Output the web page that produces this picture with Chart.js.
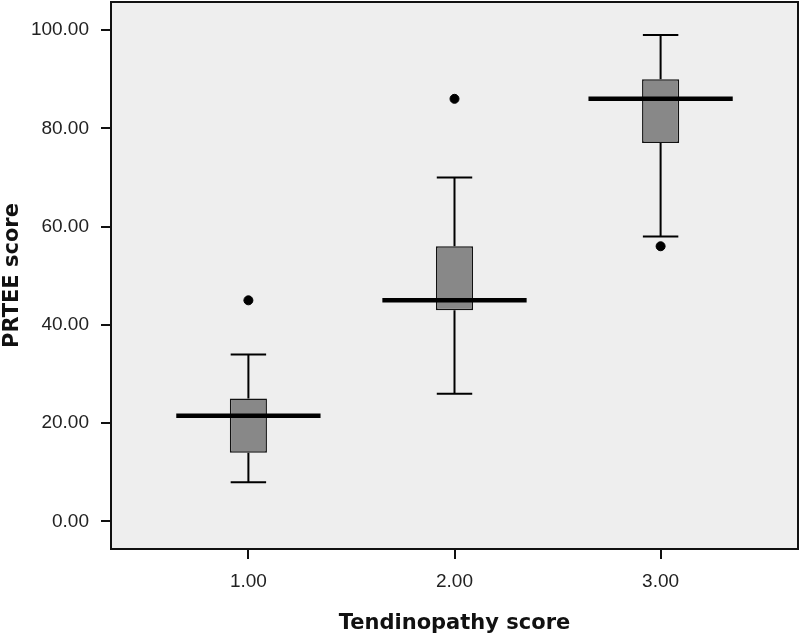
<!DOCTYPE html>
<html>
<head>
<meta charset="utf-8">
<script src="https://cdn.jsdelivr.net/npm/chart.js@4.4.1/dist/chart.umd.min.js"></script>
<style>
  html, body { margin: 0; padding: 0; background: #ffffff; }
  #wrap { width: 800px; height: 639px; position: relative; }
</style>
</head>
<body>
<div id="wrap"><canvas id="c" width="800" height="639"></canvas></div>
<script>
// ---- data ----
const categories   = [1, 2, 3];
const q1           = [14, 43, 77];
const q3           = [25, 56, 90];
const whiskerLow   = [8, 26, 58];
const whiskerHigh  = [34, 70, 99];
const medians      = [21.5, 45, 86];
const outlierCat   = [1, 2, 3];
const outlierValue = [45, 86, 56];
const yTickValues  = [0, 20, 40, 60, 80, 100];
const xTickValues  = [1, 2, 3];
const xTitle = 'Tendinopathy score';
const yTitle = 'PRTEE score';

// ---- drawing geometry (in x-axis units) ----
const BOX_HALF = 0.09;
const CAP_HALF = 0.086;
const MED_HALF = 0.35;

const boxData = categories.map((c, i) => ({ x: c, y: [q1[i], q3[i]] }));

const whiskerData = [];
categories.forEach((c, i) => {
  whiskerData.push({ x: c, y: q3[i] }, { x: c, y: whiskerHigh[i] }, { x: c, y: null });
  whiskerData.push({ x: c - CAP_HALF, y: whiskerHigh[i] }, { x: c + CAP_HALF, y: whiskerHigh[i] }, { x: c, y: null });
  whiskerData.push({ x: c, y: q1[i] }, { x: c, y: whiskerLow[i] }, { x: c, y: null });
  whiskerData.push({ x: c - CAP_HALF, y: whiskerLow[i] }, { x: c + CAP_HALF, y: whiskerLow[i] }, { x: c, y: null });
});

const medianData = [];
categories.forEach((c, i) => {
  medianData.push({ x: c - MED_HALF, y: medians[i] }, { x: c + MED_HALF, y: medians[i] }, { x: c, y: null });
});

const outlierData = outlierCat.map((c, i) => ({ x: c, y: outlierValue[i] }));

const plotFrame = {
  id: 'plotFrame',
  beforeDatasetsDraw(chart) {
    const { ctx, chartArea: a } = chart;
    ctx.save();
    ctx.fillStyle = '#eeeeee';
    ctx.fillRect(a.left, a.top, a.right - a.left, a.bottom - a.top);
    ctx.restore();
  },
  afterDatasetsDraw(chart) {
    const { ctx, chartArea: a } = chart;
    ctx.save();
    ctx.strokeStyle = '#111';
    ctx.lineWidth = 2;
    ctx.strokeRect(a.left, a.top, a.right - a.left, a.bottom - a.top);
    ctx.restore();
  }
};

const tickFont = { family: '"Liberation Sans", Arial, sans-serif', size: 19 };
const titleFont = { family: '"DejaVu Sans", Verdana, sans-serif', size: 21, weight: 'bold', lineHeight: 1 };

new Chart(document.getElementById('c'), {
  type: 'bar',
  data: {
    datasets: [
      { type: 'line', label: 'median', data: medianData, borderColor: '#000', borderWidth: 4.5, pointRadius: 0, spanGaps: false, order: 0 },
      { type: 'bar', label: 'box', data: boxData, backgroundColor: '#888888', borderColor: '#111', borderWidth: 1.5, borderSkipped: false, barPercentage: BOX_HALF * 2, categoryPercentage: 1, order: 1 },
      { type: 'line', label: 'whiskers', data: whiskerData, borderColor: '#000', borderWidth: 2, pointRadius: 0, spanGaps: false, order: 2 },
      { type: 'scatter', label: 'outliers', data: outlierData, backgroundColor: '#000', borderColor: '#000', pointRadius: 4.5, order: 0 }
    ]
  },
  options: {
    responsive: false,
    animation: false,
    events: [],
    layout: { autoPadding: false, padding: { top: 2, right: 2, left: 0, bottom: 0 } },
    plugins: { legend: { display: false }, tooltip: { enabled: false } },
    scales: {
      x: {
        type: 'linear', offset: false, min: 1 / 3, max: 11 / 3,
        afterBuildTicks(s) { s.ticks = xTickValues.map(v => ({ value: v })); },
        afterFit(s) { s.height = 90; s.paddingLeft = 0; s.paddingRight = 0; },
        ticks: { font: tickFont, color: '#222', padding: 11, maxRotation: 0, callback: v => Number(v).toFixed(2) },
        grid: { offset: false, drawOnChartArea: false, drawTicks: true, tickLength: 10, color: '#111', lineWidth: 2 },
        border: { display: false },
        title: { display: true, text: xTitle, font: titleFont, color: '#111', padding: { top: 0, bottom: 5 } }
      },
      y: {
        type: 'linear', min: -5.6, max: 105.7,
        afterBuildTicks(s) { s.ticks = yTickValues.map(v => ({ value: v })); },
        afterFit(s) { s.width = 111; s.paddingTop = 0; s.paddingBottom = 0; },
        ticks: { font: tickFont, color: '#222', padding: 12, callback: v => Number(v).toFixed(2) },
        grid: { drawOnChartArea: false, drawTicks: true, tickLength: 10, color: '#111', lineWidth: 2 },
        border: { display: false },
        title: { display: true, text: yTitle, font: titleFont, color: '#111', padding: { top: 2, bottom: 0 } }
      }
    }
  },
  plugins: [plotFrame]
});
</script>
</body>
</html>
